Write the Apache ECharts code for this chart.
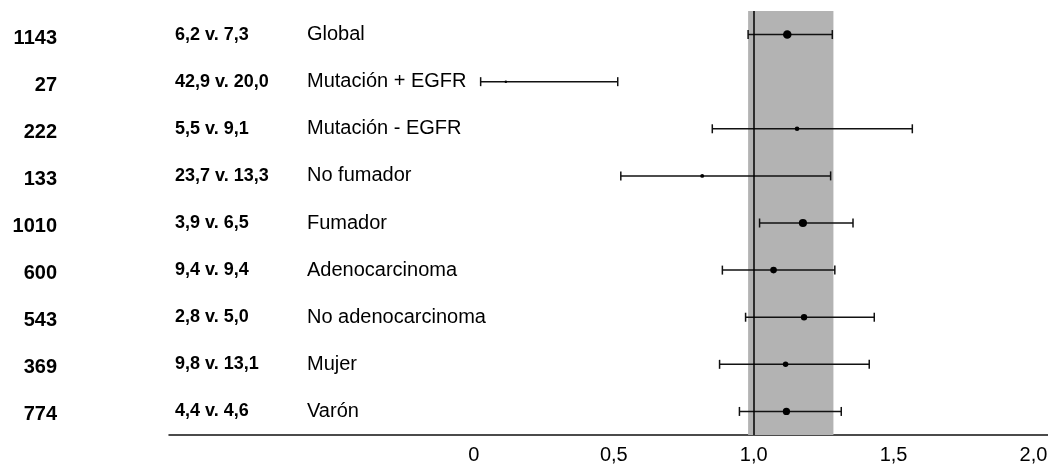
<!DOCTYPE html>
<html>
<head>
<meta charset="utf-8">
<script src="https://cdn.jsdelivr.net/npm/echarts@6/dist/echarts.min.js"></script>
<style>
  html, body { margin: 0; padding: 0; background: #fff; }
  #chart { width: 1048px; height: 466px; }
</style>
</head>
<body>
<div id="chart"></div>
<script>
// subgrupos
const subgroups = ['Global', 'Mutación + EGFR', 'Mutación - EGFR', 'No fumador', 'Fumador',
  'Adenocarcinoma', 'No adenocarcinoma', 'Mujer', 'Varón']
const patients = [1143, 27, 222, 133, 1010, 600, 543, 369, 774]
const survivalA = [6.2, 42.9, 5.5, 23.7, 3.9, 9.4, 2.8, 9.8, 4.4]
const survivalB = [7.3, 20.0, 9.1, 13.3, 6.5, 9.4, 5.0, 13.1, 4.6]
// hazard ratio e intervalo de confianza
const hazard = [1.12, 0.114, 1.155, 0.816, 1.176, 1.071, 1.18, 1.114, 1.117]
const ciLow = [0.98, 0.024, 0.852, 0.525, 1.021, 0.888, 0.971, 0.878, 0.949]
const ciHigh = [1.281, 0.514, 1.567, 1.275, 1.355, 1.29, 1.431, 1.413, 1.313]
const xTicks = [0, 0.5, 1, 1.5, 2]
const globalBand = [0.98, 1.285]
const refValue = 1

const fmt = (v) => v.toFixed(1).replace('.', ',')
const font = 'Liberation Sans, Arial, sans-serif'

const chart = echarts.init(document.getElementById('chart'))

const labelAxis = (data, label) => ({
  type: 'category',
  inverse: true,
  position: 'left',
  data: data,
  axisLine: { show: false },
  axisTick: { show: false },
  splitLine: { show: false },
  axisLabel: Object.assign({ color: '#000', fontFamily: font }, label)
})

const option = {
  animation: false,
  grid: { left: 169, right: 0, top: 11, height: 424, outerBoundsMode: 'none' },
  xAxis: {
    type: 'value',
    min: -1.09,
    max: 2.052,
    axisLine: { show: true, lineStyle: { color: '#111', width: 1.5 } },
    axisTick: { show: false },
    splitLine: { show: false },
    axisLabel: {
      customValues: xTicks,
      margin: 10,
      fontSize: 20,
      color: '#000',
      fontFamily: font,
      formatter: (v) => (v === 0 ? '0' : fmt(v))
    }
  },
  yAxis: [
    {
      type: 'category',
      inverse: true,
      data: subgroups,
      show: false
    },
    labelAxis(patients.map(String), {
      margin: 112,
      align: 'right',
      formatter: (v) => '{n|' + v + '}',
      rich: {
        n: {
          fontSize: 20, fontWeight: 'bold', color: '#000', fontFamily: font,
          padding: [7, 0, 0, 0]
        }
      }
    }),
    labelAxis(survivalA.map((a, i) => fmt(a) + ' v. ' + fmt(survivalB[i])), {
      margin: -6, fontSize: 18, fontWeight: 'bold', align: 'left'
    }),
    labelAxis(subgroups, {
      margin: -138, fontSize: 20, align: 'left'
    })
  ],
  series: [
    {
      type: 'custom',
      z: 2,
      data: ciLow.map((lo, i) => [lo, ciHigh[i], i]),
      encode: { x: [0, 1], y: 2 },
      renderItem: (params, api) => {
        const p1 = api.coord([api.value(0), api.value(2)])
        const p2 = api.coord([api.value(1), api.value(2)])
        const style = { stroke: '#111', lineWidth: 1.5 }
        const h = 4.5
        return {
          type: 'group',
          children: [
            { type: 'line', shape: { x1: p1[0], y1: p1[1], x2: p2[0], y2: p2[1] }, style },
            { type: 'line', shape: { x1: p1[0], y1: p1[1] - h, x2: p1[0], y2: p1[1] + h }, style },
            { type: 'line', shape: { x1: p2[0], y1: p2[1] - h, x2: p2[0], y2: p2[1] + h }, style }
          ]
        }
      },
      markArea: {
        silent: true,
        itemStyle: { color: '#b3b3b3' },
        data: [[{ xAxis: globalBand[0] }, { xAxis: globalBand[1] }]]
      }
    },
    {
      type: 'scatter',
      z: 4,
      data: hazard.map((hr, i) => [hr, i, patients[i]]),
      symbol: 'circle',
      symbolSize: (val) => 1.5 + Math.sqrt(val[2]) / 4.8,
      itemStyle: { color: '#000', opacity: 1 },
      markLine: {
        silent: true,
        symbol: 'none',
        label: { show: false },
        lineStyle: { color: '#000', width: 1.5, type: 'solid' },
        data: [{ xAxis: refValue }]
      }
    }
  ]
}

chart.setOption(option)
</script>
</body>
</html>
